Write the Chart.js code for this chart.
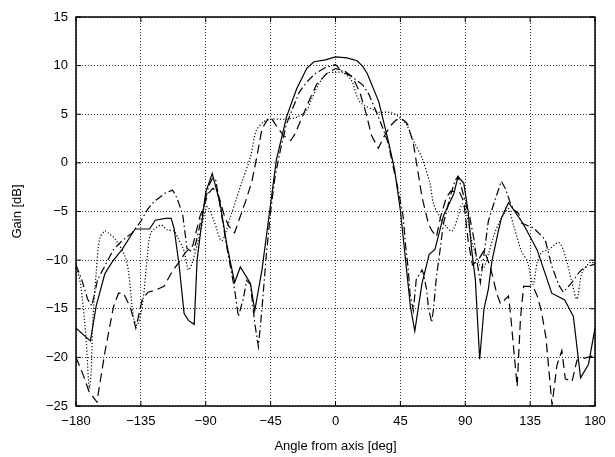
<!DOCTYPE html>
<html>
<head>
<meta charset="utf-8">
<script src="https://cdn.jsdelivr.net/npm/chart.js"></script>
<style>
  html, body { margin: 0; padding: 0; background: #fff; }
  #wrap { width: 615px; height: 457px; position: relative; }
</style>
</head>
<body>
<div id="wrap"><canvas id="gainChart" width="615" height="457"></canvas></div>

<script>
    // tick labels
    const angleTicks = [-180, -135, -90, -45, 0, 45, 90, 135, 180];
    const gainTicks = [-25, -20, -15, -10, -5, 0, 5, 10, 15];

    // series 1 (solid)
    const solidAngle = [-180, -170, -166, -160, -155, -148, -139, -129, -125, -118, -114, -112, -108.5, -105, -102, -98, -96, -93.5, -90, -85.5,
        -80, -75.5, -70, -66, -59, -56, -51, -45, -41, -34, -27, -20, -15, -7, 0, 8, 15, 19, 22, 30,
        37, 41, 45, 52, 55, 60, 65, 69, 75, 82, 85, 89, 92, 94.5, 97, 100, 103, 106, 108.5, 113,
        115, 120, 123.5, 129, 131, 135, 140, 150, 159, 165, 170, 175.5, 180];
    const solidGain = [-17, -18.3, -14.7, -11.4, -10.2, -8.9, -6.8, -6.8, -5.9, -5.7, -5.7, -6.7, -10.5, -15.5, -16.2, -16.6, -10, -7, -3, -1.1,
        -4.2, -8.3, -12.3, -10.7, -12.4, -15.2, -11.0, -4.2, 0.3, 4.7, 7.6, 9.7, 10.4, 10.6, 10.9, 10.8, 10.5, 9.9, 9.2, 6.3,
        2.0, -0.7, -4.9, -14.8, -17.3, -12.4, -9.4, -8.9, -5.4, -3.2, -1.4, -2.1, -5, -9, -12, -20.2, -15, -13, -10.1, -7,
        -5.7, -4.1, -4.8, -6, -6.5, -7.6, -9.0, -13.4, -14.1, -15.8, -22.1, -20.7, -17];

    // series 2 (dashed)
    const dashAngle = [-180, -175, -171, -165.5, -160, -154, -150.5, -147, -142, -138.5, -134, -130, -125, -119, -113, -109, -104, -99, -94, -88,
        -85, -81, -77, -74, -70, -67, -62, -58, -55, -51, -47, -45, -41, -36, -31, -28, -22, -18, -13, -6,
        0, 6, 12, 17, 21, 25, 29.7, 34, 38, 42, 45, 48, 50, 54, 60, 64.5, 67, 70, 73, 77,
        80, 86, 89, 92, 95, 99, 103, 107, 112, 114.5, 118, 120, 121.5, 126, 128.3, 130.5, 137, 140, 143, 146,
        150.2, 153.6, 157, 159.4, 164, 167.5, 172, 180];
    const dashGain = [-20, -21.8, -23.5, -24.6, -19.5, -14.8, -13.4, -13.4, -15, -17, -14, -13.3, -13.1, -12.7, -11.1, -10.3, -9.2, -8.5, -5.5, -3.1,
        -2.6, -3.4, -5.5, -6.5, -7.2, -5.9, -3.8, -1.9, 0.3, 3.5, 4.5, 4.7, 3.8, 2.8, 2.3, 3.0, 5.1, 6.5, 8.1, 9.2,
        9.7, 9.5, 8.8, 7.2, 5.2, 2.8, 1.5, 2.8, 3.8, 4.4, 4.6, 4.3, 4, 2, -3.5, -6.3, -7, -7.6, -5.5, -3.5,
        -2.9, -3.0, -4, -8, -10.5, -10, -9, -10.5, -13.5, -14.5, -14, -13.7, -15.7, -23, -16, -12.7, -12.7, -13.7, -15.4, -18,
        -24.9, -20.8, -19.3, -22.2, -22.5, -20.3, -20.1, -19.8];

    // series 3 (dash-dot)
    const dashDotAngle = [-180, -176, -172, -169, -165, -160, -154, -148, -141, -135, -130.5, -126, -118, -113, -110, -106, -103, -100, -98, -96,
        -90, -87.7, -85.4, -83, -80, -75, -70, -67.4, -64, -61.6, -59, -56, -53.5, -51, -48, -45, -42, -38, -34, -30,
        -25, -20, -14, -7, 0, 5.4, 10, 19, 23, 29, 33, 36.6, 41, 43.6, 47, 48.5, 50.5, 51.7, 54, 56,
        60, 61, 63.3, 64.4, 66.7, 68, 70, 72.5, 74.8, 79.4, 83, 85, 87.5, 91, 93, 96, 98, 100.5, 102, 104,
        106, 110, 115, 117.7, 121, 123.5, 127, 129, 137.5, 145.5, 150, 155, 158, 164, 168.7, 172, 180];
    const dashDotGain = [-10.5, -12, -14, -14.7, -12, -10.6, -8.9, -8, -7.2, -6, -4.8, -4, -3.1, -2.8, -3.6, -5.3, -8.8, -9.1, -8.9, -7.7,
        -3.6, -2.3, -1.6, -1.8, -4.5, -9, -13, -15.8, -14, -12.1, -12.5, -16.5, -18.9, -15, -9.5, -5, -1.5, 1.5, 4, 5.5,
        7.3, 8.3, 9.2, 9.8, 10.1, 9.3, 9.0, 8, 7.1, 5, 3.5, 2, -1.1, -2.8, -5.6, -8.3, -11, -13.5, -15.2, -12,
        -11, -11.4, -13.1, -14.8, -16.4, -15, -11.7, -9, -6.3, -3.5, -1.8, -1.4, -2.6, -4.6, -5.5, -7.8, -10, -12.3, -10.5, -8.3,
        -6, -4.1, -1.9, -2.6, -4, -4.8, -5.2, -6.2, -6.7, -7.9, -10.6, -12.6, -13.3, -12.3, -11.3, -10.8, -10.4];

    // series 4 (dotted)
    const dotAngle = [-180, -176.7, -173, -170.8, -169.5, -168.4, -166, -163.6, -160, -157.7, -153, -146, -143.5, -140, -137.6, -134, -130.5, -128, -121, -116.6,
        -112, -109.7, -105, -102, -99, -93.5, -91, -88.8, -84.2, -78.9, -73, -65, -59, -55, -50, -45, -40, -34, -27, -20,
        -17, -12, -6, 0, 5, 11, 15, 18, 27, 30, 37, 42.5, 49, 54, 60, 65.5, 68, 72.5, 77, 81,
        85, 88, 91, 94.6, 100, 102.7, 106, 110, 114, 118, 120, 123.5, 129, 133, 137, 140, 143, 148, 155, 159.4,
        164, 167.5, 171, 177, 180];
    const dotGain = [-10.5, -12.6, -18.1, -23.2, -21.5, -16.4, -11.3, -7.8, -7, -7.2, -7.8, -9.6, -11.3, -16, -16.7, -14.7, -9.6, -7.2, -6.4, -6.9,
        -7, -7.6, -9.1, -11, -10.1, -7, -5.3, -4.5, -6, -8.0, -5.6, -2, 0.6, 3.3, 4.2, 4.5, 4.5, 4.5, 4.7, 5.4,
        6.4, 8, 9.2, 9.3, 9.3, 8.5, 6.8, 6.1, 5.4, 5.2, 5.2, 4.9, 4.0, 2.3, 0.5, -2.1, -4.2, -5.6, -6.6, -7,
        -5.5, -4.2, -5.3, -8.1, -10.5, -10.8, -9.4, -7.4, -6, -5, -4.7, -6.4, -9.1, -10.1, -12.5, -10.2, -9.2, -8.9, -8.2, -9.6,
        -12.3, -14, -11.3, -10.2, -10.4];

    const pairs = (xs, ys) => xs.map((x, i) => ({ x: x, y: ys[i] }));
    const minus = v => String(v).replace('-', '\u2212');

    // box round the plot and little inward ticks, like the old matlab plots
    const frame = {
        id: 'frame',
        afterDraw(chart) {
            const { ctx, chartArea: a, scales } = chart;
            ctx.save();
            ctx.strokeStyle = '#000';
            ctx.lineWidth = 1;
            ctx.beginPath();
            angleTicks.forEach(v => {
                const px = scales.x.getPixelForValue(v);
                ctx.moveTo(px, a.bottom); ctx.lineTo(px, a.bottom - 5);
                ctx.moveTo(px, a.top); ctx.lineTo(px, a.top + 5);
            });
            gainTicks.forEach(v => {
                const py = scales.y.getPixelForValue(v);
                ctx.moveTo(a.left, py); ctx.lineTo(a.left + 5, py);
                ctx.moveTo(a.right, py); ctx.lineTo(a.right - 5, py);
            });
            ctx.stroke();
            ctx.lineWidth = 1.5;
            ctx.strokeRect(a.left, a.top, a.right - a.left, a.bottom - a.top);
            ctx.restore();
        }
    };

    const line = (xs, ys, dash, tension) => ({
        data: pairs(xs, ys),
        showLine: true,
        borderColor: '#000',
        borderWidth: 1.2,
        borderDash: dash,
        pointRadius: 0,
        tension: tension,
        fill: false
    });

    const gridOpts = { color: '#000', lineWidth: 0.8, drawTicks: false };
    const borderOpts = { display: false, dash: [1, 2] };
    const font = { family: 'Liberation Sans', size: 13 };

    const ctx = document.getElementById('gainChart').getContext('2d');
    const gainChart = new Chart(ctx, {
        type: 'scatter',
        data: {
            datasets: [
                line(solidAngle, solidGain, [], 0),
                line(dashAngle, dashGain, [9, 5], 0),
                line(dashDotAngle, dashDotGain, [8, 3, 1.5, 3], 0),
                line(dotAngle, dotGain, [1.2, 2], 0.3)
            ]
        },
        options: {
            responsive: false,
            animation: false,
            layout: { padding: { top: 17, right: 20, left: 0, bottom: 0 } },
            plugins: { legend: { display: false }, tooltip: { enabled: false } },
            scales: {
                x: {
                    type: 'linear',
                    min: -180, max: 180,
                    afterBuildTicks: s => { s.ticks = angleTicks.map(v => ({ value: v })); },
                    afterFit: s => { s.height = 51; },
                    grid: gridOpts,
                    border: borderOpts,
                    ticks: { color: '#000', padding: 8, maxRotation: 0, font: font, callback: minus },
                    title: { display: true, text: 'Angle from axis [deg]', color: '#000', padding: { top: 0, bottom: 3 }, font: font }
                },
                y: {
                    type: 'linear',
                    min: -25, max: 15,
                    afterBuildTicks: s => { s.ticks = gainTicks.map(v => ({ value: v })); },
                    afterFit: s => { s.width = 76; },
                    grid: gridOpts,
                    border: borderOpts,
                    ticks: { color: '#000', padding: 8, font: font, callback: minus },
                    title: { display: true, text: 'Gain [dB]', color: '#000', padding: { top: 10, bottom: 0 }, font: font }
                }
            }
        },
        plugins: [frame]
    });
</script>
</body>
</html>
